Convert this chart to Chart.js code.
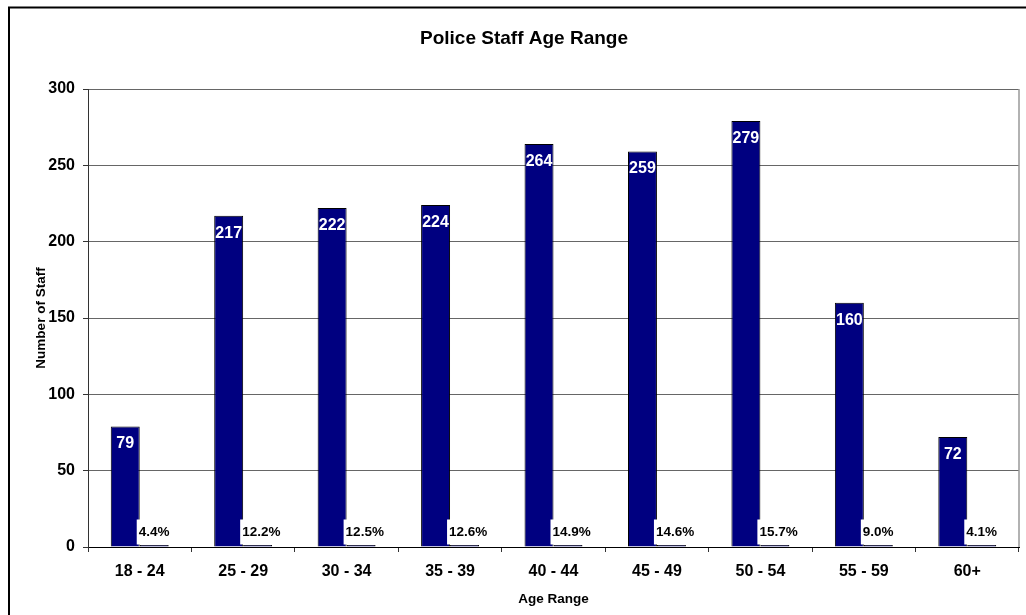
<!DOCTYPE html>
<html>
<head>
<meta charset="utf-8">
<title>Police Staff Age Range</title>
<script src="https://cdn.jsdelivr.net/npm/chart.js@4.4.0/dist/chart.umd.min.js"></script>
<style>
    html, body { margin: 0; padding: 0; background: #fff; }
    #wrap { width: 1026px; height: 615px; }
</style>
</head>
<body>
<div id="wrap"><canvas id="ageChart" width="1026" height="615"></canvas></div>
<script>
// Values
var ageRanges = ["18 - 24", "25 - 29", "30 - 34", "35 - 39", "40 - 44", "45 - 49", "50 - 54", "55 - 59", "60+"];
var staffCounts = [79, 217, 222, 224, 264, 259, 279, 160, 72];
var staffShare = [0.044, 0.122, 0.125, 0.126, 0.149, 0.146, 0.157, 0.090, 0.041];
var yTicks = [0, 50, 100, 150, 200, 250, 300];

var fontFamily = '"Liberation Sans", Arial, sans-serif';

// White page with the black frame round the whole chart
var chartFrame = {
    id: "chartFrame",
    beforeDraw: function (chart) {
        var ctx = chart.ctx;
        ctx.save();
        ctx.fillStyle = "#fff";
        ctx.fillRect(0, 0, chart.width, chart.height);
        ctx.strokeStyle = "#000";
        ctx.lineWidth = 2;
        ctx.strokeRect(9, 7.5, chart.width + 20, chart.height + 20);
        ctx.restore();
    },
    beforeDatasetsDraw: function (chart) {
        // grey line on the right side of the plot area
        var area = chart.chartArea;
        var ctx = chart.ctx;
        ctx.save();
        ctx.strokeStyle = "#999";
        ctx.lineWidth = 1.5;
        ctx.beginPath();
        ctx.moveTo(area.right, area.top);
        ctx.lineTo(area.right, area.bottom);
        ctx.stroke();
        ctx.restore();
    }
};

// Count inside each bar, percentage in a white box just above the axis
var barLabels = {
    id: "barLabels",
    afterDatasetsDraw: function (chart) {
        var ctx = chart.ctx;
        ctx.save();
        ctx.textBaseline = "middle";

        ctx.font = "bold 16px " + fontFamily;
        ctx.textAlign = "center";
        ctx.fillStyle = "#fff";
        chart.getDatasetMeta(0).data.forEach(function (bar, i) {
            ctx.fillText(String(staffCounts[i]), bar.x, bar.y + 17.5);
        });

        ctx.font = "bold 13.5px " + fontFamily;
        ctx.textAlign = "left";
        chart.getDatasetMeta(1).data.forEach(function (bar, i) {
            var text = (staffShare[i] * 100).toFixed(1) + "%";
            var left = bar.x - bar.width / 2;
            var w = ctx.measureText(text).width;
            ctx.fillStyle = "#fff";
            ctx.fillRect(left - 3, bar.base - 27, w + 6, 25);
            ctx.fillStyle = "#000";
            ctx.fillText(text, left - 1, bar.base - 14.5);
        });
        ctx.restore();
    }
};

new Chart(document.getElementById("ageChart").getContext("2d"), {
    type: "bar",
    data: {
        labels: ageRanges,
        datasets: [
            {
                label: "Number of Staff",
                data: staffCounts,
                backgroundColor: "#000080",
                borderColor: "#000",
                borderWidth: 1,
                categoryPercentage: 0.56,
                barPercentage: 1.0
            },
            {
                label: "Percentage",
                data: staffShare,
                backgroundColor: "#000080",
                borderColor: "#000",
                borderWidth: 1,
                minBarLength: 2,
                categoryPercentage: 0.56,
                barPercentage: 1.0
            }
        ]
    },
    options: {
        responsive: false,
        animation: false,
        layout: {
            padding: { top: 20, left: 29, right: 7, bottom: 4 }
        },
        plugins: {
            legend: { display: false },
            tooltip: { enabled: false },
            title: {
                display: true,
                text: "Police Staff Age Range",
                color: "#000",
                font: { family: fontFamily, size: 19, weight: "bold" },
                padding: { top: 7, bottom: 39.2 }
            }
        },
        scales: {
            x: {
                grid: { offset: true, drawOnChartArea: false, color: "#333", tickLength: 5 },
                border: { color: "#000", width: 1 },
                ticks: {
                    color: "#000",
                    maxRotation: 0,
                    padding: 10.4,
                    font: { family: fontFamily, size: 16, weight: "bold" }
                },
                title: {
                    display: true,
                    text: "Age Range",
                    color: "#000",
                    font: { family: fontFamily, size: 13.5, weight: "bold" },
                    padding: { top: 0, bottom: 3.9 }
                },
                afterFit: function (scale) { scale.height = 64; }
            },
            y: {
                min: yTicks[0],
                max: yTicks[yTicks.length - 1],
                grid: { color: "#666", tickColor: "#333", tickLength: 5 },
                border: { color: "#333", width: 1 },
                ticks: {
                    stepSize: yTicks[1] - yTicks[0],
                    color: "#000",
                    padding: 8,
                    font: { family: fontFamily, size: 16, weight: "bold" }
                },
                title: {
                    display: true,
                    text: "Number of Staff",
                    color: "#000",
                    font: { family: fontFamily, size: 13.5, weight: "bold" },
                    padding: { top: 3.9, bottom: 0 }
                },
                afterFit: function (scale) { scale.width = 59; }
            }
        }
    },
    plugins: [chartFrame, barLabels]
});
</script>
</body>
</html>
